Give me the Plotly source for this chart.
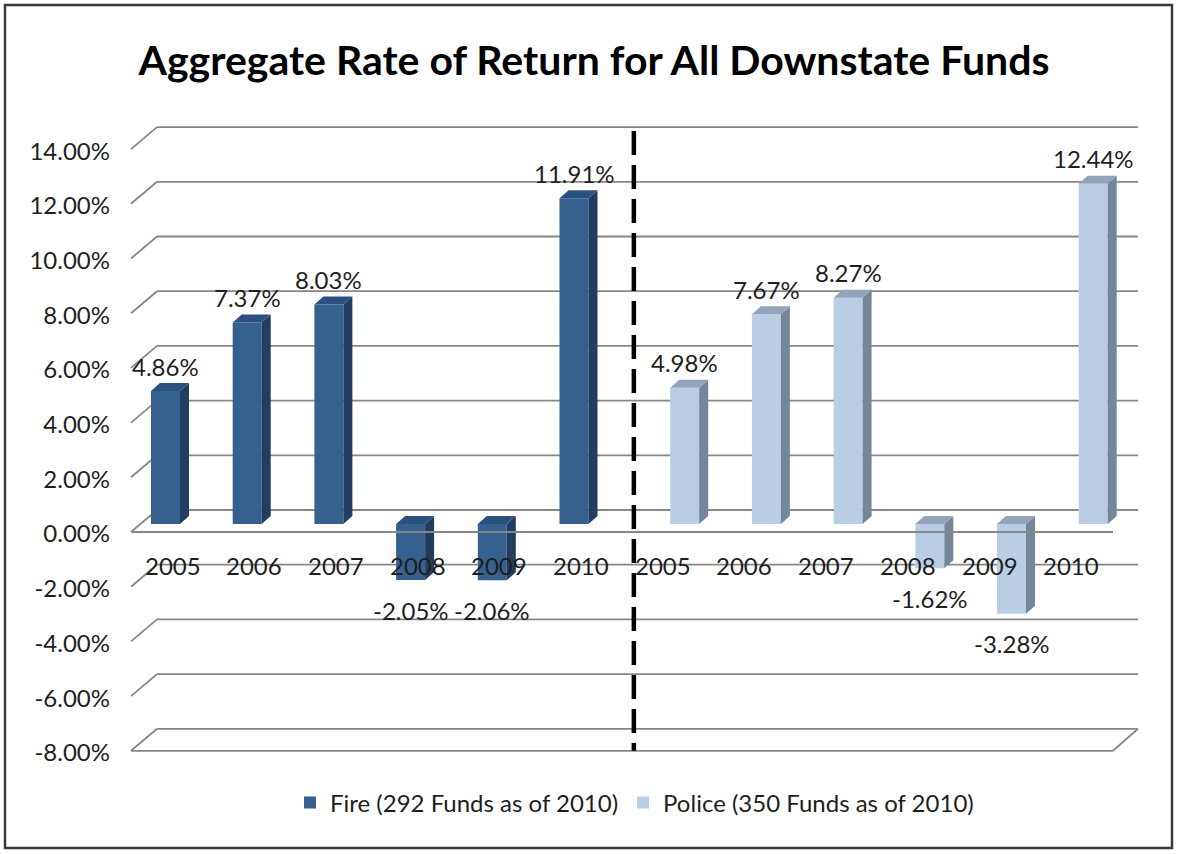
import plotly.graph_objects as go

# ---------------- data ----------------
years = ["2005", "2006", "2007", "2008", "2009", "2010"]
fire = [4.86, 7.37, 8.03, -2.05, -2.06, 11.91]
police = [4.98, 7.67, 8.27, -1.62, -3.28, 12.44]
fire_name = "Fire (292 Funds as of 2010)"
police_name = "Police (350 Funds as of 2010)"
y_ticks = [14, 12, 10, 8, 6, 4, 2, 0, -2, -4, -6, -8]
y_tick_labels = [f"{t:.2f}%" for t in y_ticks]
title_text = "Aggregate Rate of Return for All Downstate Funds"

# ---------------- layout geometry ----------------
W, H = 1178, 854
PL, PR, PT, PB = 113, 1148, 100, 775       # plot area in px
X0_PX, SX = 180.0, 81.7                     # px of category 0, px per category
Y0_PX, SY = 524.0, 27.35                    # px of 0% (bar plane), px per %
xr = [(PL - X0_PX) / SX, (PR - X0_PX) / SX]
yr = [(Y0_PX - PB) / SY, (Y0_PX - PT) / SY]

def dx(px):
    return px / SX

def dy(px):
    return px / SY

bw = dx(29)                 # bar width
half = bw / 2
ddx, ddy = dx(9), dy(8)     # bar depth
back_oy = dy(14)
front_oy = dy(-8)
wall_left_back = dx(157 - X0_PX)
wall_right_back = dx(1138 - X0_PX)
wall_left_front = dx(131 - X0_PX)
wall_right_front = dx(1113 - X0_PX)

n = len(years)
x_fire = [i - half for i in range(n)]
x_police = [n + i + half for i in range(n)]

FIRE_FRONT, FIRE_SIDE, FIRE_TOP = "#36618f", "#223d5f", "#2c5080"
POL_FRONT, POL_SIDE, POL_TOP = "#b9cde5", "#74869a", "#93a5bb"
GRID = "#878787"
FONT = "Lato"
TXT = "#1e1e1e"

fig = go.Figure()
fig.add_trace(go.Bar(x=x_fire, y=fire, base=0, width=bw, name=fire_name,
                     marker=dict(color=FIRE_FRONT, line=dict(width=0)),
                     hoverinfo="skip"))
fig.add_trace(go.Bar(x=x_police, y=police, base=0, width=bw, name=police_name,
                     marker=dict(color=POL_FRONT, line=dict(width=0)),
                     hoverinfo="skip"))

shapes = []

def path(pts):
    return "M " + " L ".join(f"{x},{y}" for x, y in pts) + " Z"

# gridlines on back wall with left perspective diagonal
for t in y_ticks:
    yb = t + back_oy
    yf = t + front_oy
    shapes.append(dict(type="line", xref="x", yref="y", layer="below",
                       x0=wall_left_front, y0=yf, x1=wall_left_back, y1=yb,
                       line=dict(color=GRID, width=1.8)))
    shapes.append(dict(type="line", xref="x", yref="y", layer="below",
                       x0=wall_left_back, y0=yb, x1=wall_right_back, y1=yb,
                       line=dict(color=GRID, width=1.8)))

# floor at bottom
tb = y_ticks[-1]
shapes.append(dict(type="line", xref="x", yref="y", layer="below",
                   x0=wall_left_front, y0=tb + front_oy, x1=wall_right_front, y1=tb + front_oy,
                   line=dict(color=GRID, width=1.8)))
shapes.append(dict(type="line", xref="x", yref="y", layer="below",
                   x0=wall_right_front, y0=tb + front_oy, x1=wall_right_back, y1=tb + back_oy,
                   line=dict(color=GRID, width=1.8)))

# 3D faces for bars
def faces(xc, v, side_c, top_c):
    x0, x1 = xc - half, xc + half
    side = [(x1, 0), (x1, v), (x1 + ddx, v + ddy), (x1 + ddx, ddy)]
    ytop = max(v, 0)
    top = [(x0, ytop), (x1, ytop), (x1 + ddx, ytop + ddy), (x0 + ddx, ytop + ddy)]
    out = []
    for pts, c in ((side, side_c), (top, top_c)):
        out.append(dict(type="path", xref="x", yref="y", layer="above",
                        path=path(pts), fillcolor=c, line=dict(width=0)))
    return out

for xc, v in zip(x_fire, fire):
    shapes += faces(xc, v, FIRE_SIDE, FIRE_TOP)
for xc, v in zip(x_police, police):
    shapes += faces(xc, v, POL_SIDE, POL_TOP)

# front edge of the 0% plane (in front of bars)
shapes.append(dict(type="line", xref="x", yref="y", layer="above",
                   x0=wall_left_front, y0=front_oy, x1=wall_right_front, y1=front_oy,
                   line=dict(color=GRID, width=1.8)))

# dashed separator between groups
sep_x = (x_fire[-1] + x_police[0]) / 2 + ddx / 2
shapes.append(dict(type="line", xref="x", yref="y", layer="above",
                   x0=sep_x, y0=max(y_ticks) + dy(10), x1=sep_x, y1=min(y_ticks) + dy(-8),
                   line=dict(color="black", width=4.5, dash="24px,10px")))

# outer border
def pxx(px):
    return (px - PL) / (PR - PL)

def pxy(py):
    return (PB - py) / (PB - PT)

shapes.append(dict(type="rect", xref="paper", yref="paper",
                   x0=pxx(5), x1=pxx(1172), y0=pxy(848), y1=pxy(5),
                   line=dict(color="#3a3a3a", width=2.5)))

annotations = []
lab_font = dict(family=FONT, size=24, color=TXT)
for xs, vals in ((x_fire, fire), (x_police, police)):
    for xc, v in zip(xs, vals):
        annotations.append(dict(x=xc, y=v, xref="x", yref="y", text=f"{v:.2f}%",
                                showarrow=False, font=lab_font, yanchor="middle",
                                yshift=25 if v >= 0 else -30))
# category labels
for gi in range(2):
    for i, yr_lbl in enumerate(years):
        annotations.append(dict(x=gi * n + i - dx(7.5), y=0, xref="x", yref="y",
                                text=yr_lbl, showarrow=False, font=lab_font,
                                yanchor="middle", yshift=-41))

fig.update_layout(
    width=W, height=H,
    margin=dict(l=PL, r=W - PR, t=PT, b=H - PB),
    paper_bgcolor="white", plot_bgcolor="white",
    title=dict(text=title_text, xref="container", yref="container",
               x=594 / W, y=1 - 61 / H, xanchor="center", yanchor="middle",
               font=dict(family=FONT, size=41, color="black", weight="bold")),
    xaxis=dict(range=xr, showgrid=False, zeroline=False, showline=False,
               showticklabels=False, fixedrange=True),
    yaxis=dict(range=yr, showgrid=False, zeroline=False, showline=False,
               tickvals=[t + front_oy - dy(2) for t in y_ticks], ticktext=y_tick_labels,
               tickfont=dict(family=FONT, size=24, color=TXT),
               ticks="", ticklabelstandoff=2, fixedrange=True),
    barmode="overlay",
    showlegend=True,
    legend=dict(orientation="h", x=pxx(290), y=pxy(803), xanchor="left", yanchor="middle",
                font=dict(family=FONT, size=24, color=TXT),
                bgcolor="rgba(0,0,0,0)", traceorder="normal"),
    shapes=shapes,
    annotations=annotations,
)

fig.write_html("out.html", config={"displayModeBar": False},
               post_script="document.body.style.margin='0px';")
